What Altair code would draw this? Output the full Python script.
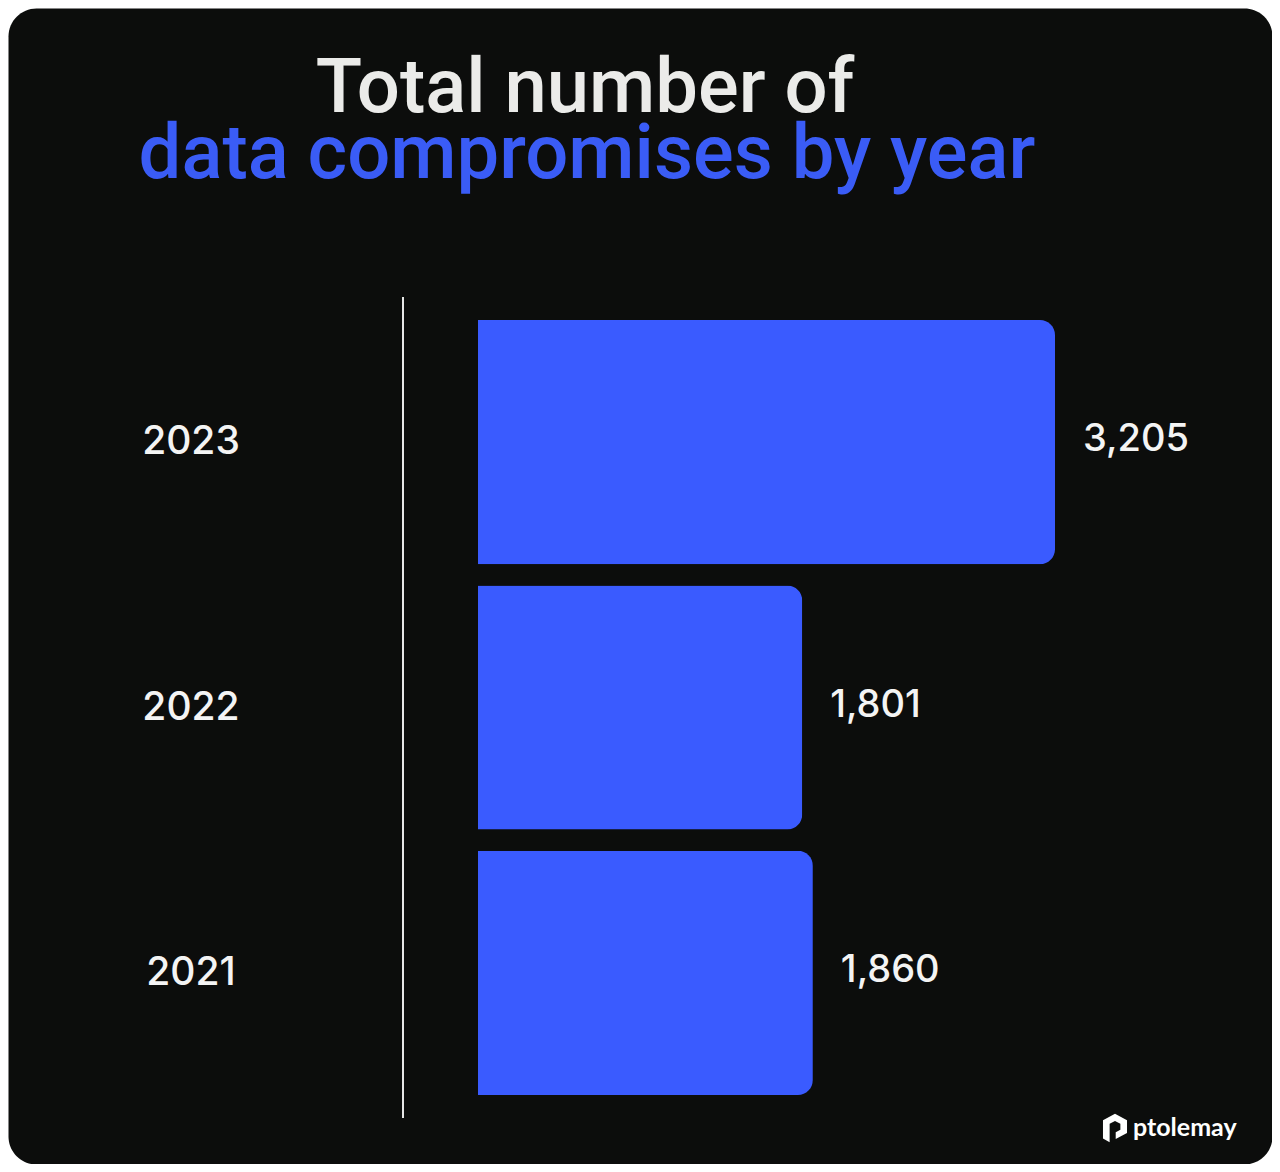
import altair as alt
import pandas as pd

# ---- data ----
years = ["2023", "2022", "2021"]
compromises = [3205, 1801, 1860]
title_lines = ["Total number of", "data compromises by year"]
brand = "ptolemay"

BG = "#0c0d0c"
BLUE = "#3a5bff"
TITLE_BLUE = "#3a5cf6"
LIGHT = "#ebebe9"

df = pd.DataFrame({"year": years, "value": compromises})

x_scale = alt.Scale(domain=[0, 3500], range=[470, 470 + 3500 * 577 / 3205], nice=False, zero=True)
y_scale = alt.Scale(domain=years, range=[312, 1087], paddingInner=0.08, paddingOuter=0)

base = alt.Chart(df).encode(
    y=alt.Y("year:N", sort=years, scale=y_scale, axis=None),
)

bars = base.mark_bar(color=BLUE, cornerRadiusEnd=15).encode(
    x=alt.X("value:Q", scale=x_scale, axis=None),
)

values = base.mark_text(
    align="left", baseline="middle", dx=28, dy=-2, font="Inter", fontWeight=500,
    fontSize=38, color="#f4f4f4"
).encode(
    x=alt.X("value:Q", scale=x_scale, axis=None),
    text=alt.Text("value:Q", format=","),
)

year_labels = base.mark_text(
    align="center", baseline="middle", font="Inter", fontWeight=500, fontSize=39, color="#f4f4f4"
).encode(
    x=alt.value(183),
    text="year:N",
)

divider = alt.Chart(df).mark_rule(color="#e6e6e6", strokeWidth=2).encode(
    x=alt.value(395), y=alt.value(289), y2=alt.value(1110)
)

t1 = alt.Chart(pd.DataFrame({"t": [title_lines[0]]})).mark_text(
    align="center", baseline="alphabetic", font="Roboto", fontWeight=500, fontSize=76, color=LIGHT
).encode(text="t:N", x=alt.value(577), y=alt.value(104))

t2 = alt.Chart(pd.DataFrame({"t": [title_lines[1]]})).mark_text(
    align="center", baseline="alphabetic", font="Roboto", fontWeight=500, fontSize=76, color=TITLE_BLUE
).encode(text="t:N", x=alt.value(579), y=alt.value(170))

logo_path = ("M -0.85 -0.55 L 0 -1 L 0.85 -0.55 L 0.85 0.35 L 0.05 0.78 L 0.05 0.3 "
             "L 0.38 0.12 L 0.38 -0.3 L 0 -0.5 L -0.38 -0.3 L -0.38 1 L -0.85 0.75 Z")
logo_icon = alt.Chart(pd.DataFrame({"t": [brand]})).mark_point(
    shape=logo_path, filled=True, color="white", opacity=1, size=800, strokeWidth=0
).encode(x=alt.value(1107), y=alt.value(1120))

logo_text = alt.Chart(pd.DataFrame({"t": [brand]})).mark_text(
    align="left", baseline="alphabetic", font="Lato", fontWeight="bold", fontSize=25, color="white"
).encode(text="t:N", x=alt.value(1125), y=alt.value(1128))

chart = alt.layer(
    t1, t2, divider, bars, values, year_labels, logo_icon, logo_text
).properties(
    width=1264,
    height=1156,
    autosize=alt.AutoSizeParams(type="fit", contains="padding"),
    padding=0,
    background="white",
).configure_view(
    fill=BG, stroke="transparent", cornerRadius=28
)

chart.save("out.html", embed_options={"renderer": "svg", "actions": False})
